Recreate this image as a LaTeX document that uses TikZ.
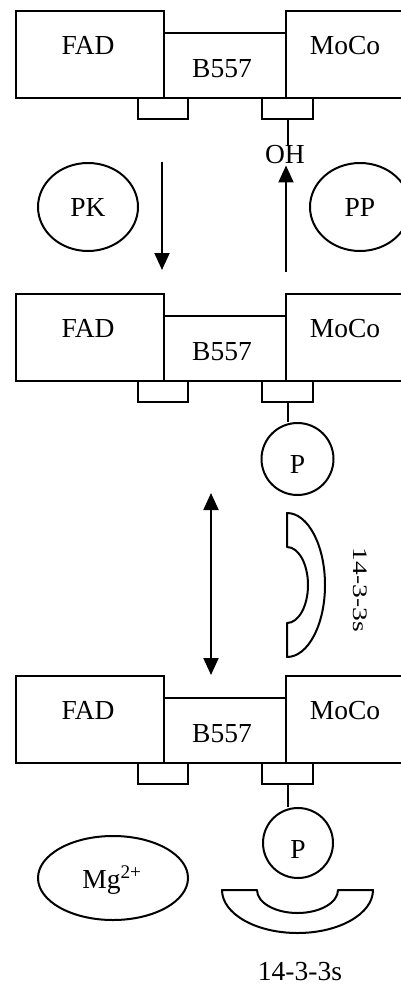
\documentclass[tikz,border=0pt]{standalone}
\usepackage{fontspec}
\setmainfont{Liberation Serif}
\usetikzlibrary{arrows.meta,shapes.geometric}
\newcommand\enzymeblock[2]{%
  \begin{scope}[yshift=-#2pt]
    \node[box, minimum width=148, minimum height=87] (fad#1) at (15,0) {};
    \node[box, minimum width=122, minimum height=65] (bcyt#1) at (163,-22) {};
    \node[box, minimum width=130, minimum height=87] (moco#1) at (285,0) {};
    \node[box, minimum width=50, minimum height=21] (tabL#1) at (137,-87) {};
    \node[box, minimum width=51, minimum height=21] (tabR#1) at (261,-87) {};
    \node[lbl] (fadt#1) at (88,-44) {FAD};
    \node[lbl] (bcytt#1) at (222,-67) {B557};
    \node[lbl] (mocot#1) at (345,-44) {MoCo};
  \end{scope}}
\begin{document}
\begin{tikzpicture}[x=1pt,y=1pt,
  every node/.style={font=\fontsize{27.5}{33}\selectfont},
  box/.style={draw, line width=2pt, inner sep=0pt, anchor=north west},
  lbl/.style={inner sep=0pt, anchor=base},
  blob/.style={draw, ellipse, line width=2pt, inner sep=0pt},
  conn/.style={line width=2pt},
  arr/.style={line width=2pt, -{Triangle[length=17pt,width=15pt]}},
  darr/.style={line width=2pt, {Triangle[length=17pt,width=15pt]}-{Triangle[length=17pt,width=15pt]}},
  crescent/.style={draw, line width=2pt, line join=round}]
\clip (0,0) rectangle (401,-985);

% three states of the enzyme
\enzymeblock{1}{10}
\enzymeblock{2}{293}
\enzymeblock{3}{675}

% top: kinase / phosphatase
\node[lbl] (oh) at (285,-163) {OH};
\draw[conn] (tabR1.south) -- (tabR1.south |- oh.north);
\node[blob, minimum width=100, minimum height=88] (pk) at (88,-207) {PK};
\node[blob, minimum width=100, minimum height=88] (pp) at (360,-207) {PP};
\coordinate (dns) at (162,-162);
\coordinate (dne) at (162,-270);
\draw[arr] (dns) -- (dne);
\coordinate (ups) at (286,-272);
\draw[arr] (ups) -- ([yshift=-2pt]ups |- oh.south);

% middle: phosphorylated
\node[blob, circle, minimum size=72] (p2) at (297.5,-459) {};
\node[lbl] (p2t) at (297.5,-473) {P};
\draw[conn] (tabR2.south) -- (tabR2.south |- p2.north);
\coordinate (das) at (211,-493);
\coordinate (dae) at (211,-675);
\draw[darr] (das) -- (dae);
\draw[crescent] (287,-547) -- (287,-513)
  arc[start angle=90, end angle=-90, x radius=38, y radius=72]
  -- (287,-623)
  arc[start angle=-90, end angle=90, x radius=21, y radius=38]
  -- cycle;
\node[inner sep=0pt, rotate=-90] (lab1) at (360,-590) {\scalebox{1}[0.75]{14-3-3s}};

% bottom: complex with 14-3-3 and Mg2+
\node[blob, circle, minimum size=70] (p3) at (298,-843) {};
\node[lbl] (p3t) at (298,-858) {P};
\draw[conn] (tabR3.south) -- (tabR3.south |- p3.north);
\node[blob, minimum width=150, minimum height=84] (mg) at (113,-878) {};
\node[lbl] (mgt) at (112,-888) {Mg\textsuperscript{2+}};
\draw[crescent] (222,-890)
  arc[start angle=180, end angle=360, x radius=75.5, y radius=43]
  -- (338,-890)
  arc[start angle=0, end angle=-180, x radius=40.5, y radius=23]
  -- cycle;
\node[lbl] (lab2) at (300,-980) {14-3-3s};
\end{tikzpicture}
\end{document}
